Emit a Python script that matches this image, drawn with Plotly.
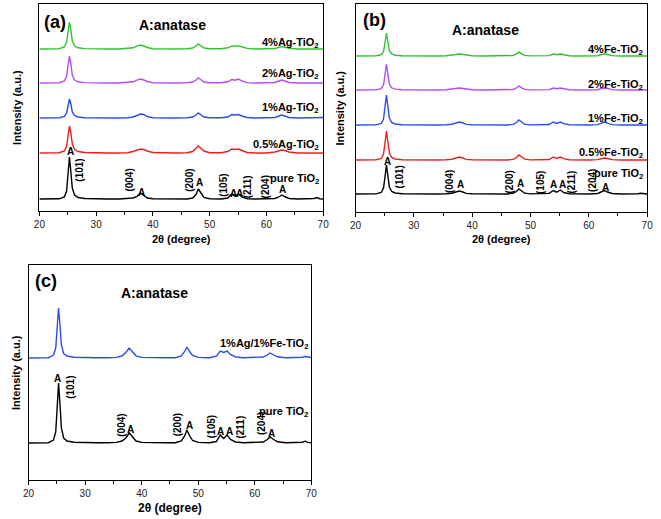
import plotly.graph_objects as go

# ---------------- data ----------------
THETA = [20, 22, 23.5, 24.4, 24.8, 25.05, 25.3, 25.55, 25.8, 26.2,
         26.8, 28, 30, 32, 34, 35.5, 36.5, 37.2, 37.8, 38.4,
         39.0, 40.0, 42, 44, 46, 47.0, 47.6, 48.0, 48.4, 49.0,
         50.0, 52, 53.2, 53.9, 54.5, 55.1, 55.7, 56.6, 58, 60,
         61.5, 62.2, 62.7, 63.2, 64.0, 65.5, 67.5, 68.4, 68.9, 69.4, 70]

# panel (a): Ag-doped
A_PURE = [1, 1, 1.2, 3, 9, 26, 43, 28, 12, 5, 2.5, 1.5, 1, 1, 1, 1.2, 2, 3.5, 7, 4.5,
          2, 1.2, 1, 1, 1, 2, 5.5, 11, 7, 2.5, 1.2, 1, 2, 6, 3.5, 6, 3, 1.3, 1, 1,
          1.5, 3, 5, 3.5, 1.5, 1, 1, 1.5, 2.5, 1.3, 1]
A_AG05 = [1, 1, 1.3, 3, 8, 18, 28, 21, 10, 4.5, 2.5, 1.5, 1, 1, 1, 1.3, 2.5, 4, 5, 4.5,
          3, 1.5, 1, 1, 1.2, 2.5, 5.5, 8, 6, 3, 1.3, 1.2, 2.5, 5, 4.5, 5, 3.5, 1.5, 1, 1,
          2, 3.5, 4, 3.5, 2, 1, 1, 1.2, 1.5, 1.2, 1]
A_AG1 = [1, 1, 1.2, 2.5, 6, 13, 20, 15, 7, 3.5, 2, 1.3, 1, 1, 1, 1.3, 2, 3.5, 5, 4.5,
         2.5, 1.3, 1, 1, 1.2, 2, 4, 6, 4.5, 2, 1.2, 1.2, 2, 4.5, 4, 4.5, 3, 1.5, 1, 1,
         1.5, 3, 4, 3, 1.5, 1, 1, 1.2, 1.5, 1.3, 1.5]
A_AG2 = [1, 1, 1.3, 3, 8, 18, 28, 20, 9, 4, 2.2, 1.4, 1, 1, 1, 1.3, 2.2, 3.8, 5, 4,
         2.5, 1.3, 1, 1, 1.2, 2, 4, 6, 4.5, 2, 1.2, 1.2, 2.2, 4.5, 3.8, 5, 3, 1.4, 1, 1,
         1.5, 3, 4, 3, 1.5, 1, 1, 1.2, 1.6, 1.2, 1]
A_AG4 = [1, 1, 1.3, 3, 8, 18, 28, 20, 9, 4, 2.2, 1.4, 1, 1, 1, 1.3, 2.2, 3.8, 5, 4,
         2.5, 1.3, 1, 1, 1.2, 2, 4, 6, 4.5, 2, 1.2, 1.2, 2.2, 3.8, 4, 4, 3.2, 1.6, 1, 1,
         1.5, 2.6, 3.5, 3, 1.6, 1, 1, 1.2, 1.4, 1.2, 1]
A_OFFSETS = [11, 57, 92, 127, 161]

# panel (b): Fe-doped
B_PURE = [1, 1, 1.1, 2.5, 7, 18, 30, 19, 8, 3.5, 2, 1.3, 1, 1, 1, 1.2, 1.8, 3, 4, 3,
          1.6, 1.2, 1, 1, 1, 1.6, 3.5, 6, 4, 1.8, 1.1, 1, 1.6, 4.5, 2.8, 5, 2.5, 1.3, 1, 1,
          1.5, 3, 4.5, 3, 1.5, 1, 1, 1.2, 1.8, 1.2, 1]
B_FE05 = [1, 1, 1.1, 2.5, 7, 18, 30, 19, 8, 3.5, 2, 1.3, 1, 1, 1, 1.2, 1.8, 3, 4, 3,
          1.6, 1.2, 1, 1, 1, 1.6, 3.5, 6, 4, 1.8, 1.1, 1, 1.5, 4, 2.6, 4, 2.3, 1.3, 1, 1,
          1.4, 2.5, 3, 2.5, 1.4, 1, 1, 1.2, 1.5, 1.2, 1]
B_FE1 = [1, 1, 1.1, 2.5, 7, 19, 31, 19, 8, 3.5, 2, 1.3, 1, 1, 1, 1.2, 1.8, 3, 4, 3,
         1.6, 1.2, 1, 1, 1, 1.6, 3.5, 6, 4, 1.8, 1.1, 1, 1.5, 4, 2.6, 4, 2.3, 1.3, 1, 1,
         1.4, 2.8, 4, 2.8, 1.4, 1, 1, 1.2, 1.6, 1.2, 1]
B_FE2 = [1, 1, 1.1, 2.3, 6, 16, 27, 17, 7, 3.2, 1.9, 1.3, 1, 1, 1, 1.2, 1.6, 2.5, 3, 2.5,
         1.5, 1.2, 1, 1, 1, 1.5, 3, 5, 3.4, 1.6, 1.1, 1, 1.4, 3, 2.3, 3, 2, 1.2, 1, 1,
         1.3, 2.5, 3, 2.5, 1.4, 1, 1, 1.1, 1.5, 1.2, 1]
B_FE4 = [1, 1, 1.1, 2.2, 5.5, 14, 24, 15, 6.5, 3, 1.8, 1.3, 1, 1, 1, 1.2, 1.6, 2.5, 3, 2.5,
         1.5, 1.2, 1, 1, 1, 1.5, 3, 5, 3.4, 1.6, 1.1, 1, 1.4, 3, 2.3, 3, 2, 1.2, 1, 1,
         1.3, 2.5, 3, 2.5, 1.4, 1, 1, 1.1, 1.5, 1.2, 1]
B_OFFSETS = [17, 51, 86, 121, 155]

# panel (c): co-doped
C_PURE = [1, 1, 1.3, 4, 12, 36, 61, 40, 16, 6, 3, 1.8, 1.3, 1.2, 1.2, 1.6, 3, 6, 11, 7,
          3, 1.6, 1.2, 1.2, 1.3, 3, 8, 14, 9, 3.5, 1.6, 1.3, 2.5, 9, 5.5, 9, 4.5, 2, 1.3, 1.3,
          2, 4.5, 7, 5, 2.2, 1.3, 1.2, 1.8, 2.8, 1.6, 1.2]
C_AGFE = [1, 1, 1.3, 4, 11, 31, 51, 34, 14, 5.5, 3, 1.8, 1.3, 1.2, 1.2, 1.6, 3, 6.5, 11, 7,
          3.2, 1.6, 1.2, 1.2, 1.3, 3, 7.5, 12, 8, 3.5, 1.6, 1.3, 2.8, 8, 6.5, 8, 4.5, 2, 1.3, 1.3,
          2, 4, 6, 4.5, 2.2, 1.3, 1.2, 1.8, 2.5, 1.8, 1.5]
C_OFFSETS = [36, 121]

A_LABELS = ["pure TiO<sub>2</sub>", "0.5%Ag-TiO<sub>2</sub>", "1%Ag-TiO<sub>2</sub>",
            "2%Ag-TiO<sub>2</sub>", "4%Ag-TiO<sub>2</sub>"]
B_LABELS = ["pure TiO<sub>2</sub>", "0.5%Fe-TiO<sub>2</sub>", "1%Fe-TiO<sub>2</sub>",
            "2%Fe-TiO<sub>2</sub>", "4%Fe-TiO<sub>2</sub>"]
C_LABELS = ["pure TiO<sub>2</sub>", "1%Ag/1%Fe-TiO<sub>2</sub>"]
HKL = ["(101)", "(004)", "(200)", "(105)", "(211)", "(204)"]
X_TICKS = [20, 30, 40, 50, 60, 70]

COLORS5 = ["#000000", "#f01c1c", "#2b4cf2", "#b24ef0", "#2ec42e"]
COLORS_C = ["#000000", "#2b4cf2"]

FONT = "Liberation Sans, Arial, sans-serif"

fig = go.Figure()

def add_panel(series, offsets, colors, xa, ya):
    for vals, off, col in zip(series, offsets, colors):
        fig.add_trace(go.Scatter(
            x=THETA, y=[off + v for v in vals], mode="lines",
            line=dict(color=col, width=1.4), xaxis=xa, yaxis=ya,
            showlegend=False, hoverinfo="skip"))

add_panel([A_PURE, A_AG05, A_AG1, A_AG2, A_AG4], A_OFFSETS, COLORS5, "x", "y")
add_panel([B_PURE, B_FE05, B_FE1, B_FE2, B_FE4], B_OFFSETS, COLORS5, "x2", "y2")
add_panel([C_PURE, C_AGFE], C_OFFSETS, COLORS_C, "x3", "y3")

ann = []

def txt(x, y, text, ref, size=10, angle=0, xanchor="center", yanchor="middle"):
    ann.append(dict(x=x, y=y, xref="x" + ref, yref="y" + ref, text="<b>" + text + "</b>",
                    showarrow=False, textangle=angle, xanchor=xanchor, yanchor=yanchor,
                    font=dict(family=FONT, size=size, color="#000000")))

# panel (a)
txt(20.5, 189, "(a)", "", size=18, xanchor="left")
txt(43.4, 186, "A:anatase", "", size=14)
for lab, yy in zip(A_LABELS, [32, 66, 103, 137, 168]):
    txt(69.6, yy, lab, "", size=11, xanchor="right")
for xx, yy in [(25.4, 59), (38.0, 18), (48.2, 28), (54.2, 17), (55.3, 17), (62.9, 21)]:
    txt(xx, yy, "A", "", size=10)
for lab, xx, yy in zip(HKL, [27.1, 35.9, 46.5, 52.5, 56.8, 60.0], [41, 31, 31, 26, 24, 24]):
    txt(xx, yy, lab, "", size=10, angle=-90)

# panel (b)
txt(21.0, 192, "(b)", "2", size=18, xanchor="left")
txt(42.2, 182, "A:anatase", "2", size=14)
for lab, yy in zip(B_LABELS, [38, 59, 93, 127, 162]):
    txt(69.7, yy, lab, "2", size=11, xanchor="right")
for xx, yy in [(25.4, 50), (38.0, 27), (48.3, 28), (54.0, 27), (55.5, 27), (62.9, 24)]:
    txt(xx, yy, "A", "2", size=10)
for lab, xx, yy in zip(HKL, [27.7, 36.2, 46.4, 51.8, 57.2, 60.7], [35, 30, 30, 30, 30, 32]):
    txt(xx, yy, lab, "2", size=10, angle=-90)

# panel (c)
txt(20.7, 199, "(c)", "3", size=18, xanchor="left")
txt(42.2, 187, "A:anatase", "3", size=14)
for lab, yy in zip(C_LABELS, [68, 136]):
    txt(69.7, yy, lab, "3", size=11, xanchor="right")
for xx, yy in [(25.2, 102), (38.0, 51), (48.4, 55), (54.0, 49), (55.6, 49), (62.9, 47)]:
    txt(xx, yy, "A", "3", size=10)
for lab, xx, yy in zip(HKL, [27.3, 36.3, 46.3, 52.3, 57.3, 61.1], [93, 55, 55, 53, 53, 56]):
    txt(xx, yy, lab, "3", size=10, angle=-90)

# axis titles
def titles(ref, xshift_y, ytitle_pos, xtitle_shift, xsize):
    ann.append(dict(x=0.5, y=0, xref="x" + ref + " domain", yref="y" + ref + " domain",
                    text="<b>2θ (degree)</b>", showarrow=False, yshift=-xtitle_shift,
                    xanchor="center", yanchor="middle",
                    font=dict(family=FONT, size=xsize, color="#000000")))
    ann.append(dict(x=0, y=ytitle_pos, xref="x" + ref + " domain", yref="y" + ref + " domain",
                    text="<b>Intensity (a.u.)</b>", showarrow=False, xshift=-xshift_y,
                    textangle=-90, xanchor="center", yanchor="middle",
                    font=dict(family=FONT, size=11, color="#000000")))

titles("", 22, 0.5, 28, 11)
titles("2", 16, 0.5, 27, 11)
titles("3", 13, 0.5, 28, 12)

fig.update_layout(annotations=ann)

xcommon = dict(range=[20, 70], tickvals=X_TICKS, ticks="outside", ticklen=4, tickwidth=1,
               tickcolor="#000000", showline=True, linecolor="#000000", linewidth=1.2,
               mirror=True, showgrid=False, zeroline=False,
               tickfont=dict(family=FONT, size=10, color="#222222"),
               minor=dict(dtick=5, tick0=20, ticks="outside", ticklen=2.5,
                          tickcolor="#000000", tickwidth=1))
ycommon = dict(showline=True, linecolor="#000000", linewidth=1.2, mirror=True,
               showgrid=False, zeroline=False, showticklabels=False, ticks="")

W, H = 661, 519
fig.update_layout(
    width=W, height=H, margin=dict(l=0, r=0, t=0, b=0),
    paper_bgcolor="white", plot_bgcolor="white", showlegend=False,
    xaxis=dict(xcommon, domain=[34 / W, 323 / W], anchor="y"),
    yaxis=dict(ycommon, domain=[1 - 211 / H, 1 - 4 / H], range=[0, 207], anchor="x"),
    xaxis2=dict(xcommon, domain=[356 / W, 653 / W], anchor="y2"),
    yaxis2=dict(ycommon, domain=[1 - 212 / H, 1 - 4 / H], range=[0, 208], anchor="x2"),
    xaxis3=dict(xcommon, domain=[23 / W, 311 / W], anchor="y3"),
    yaxis3=dict(ycommon, domain=[1 - 480 / H, 1 - 265 / H], range=[0, 215], anchor="x3"),
)

fig.write_html("out.html", config={"displayModeBar": False},
               post_script="document.body.style.margin='0';document.body.style.overflow='hidden';")
